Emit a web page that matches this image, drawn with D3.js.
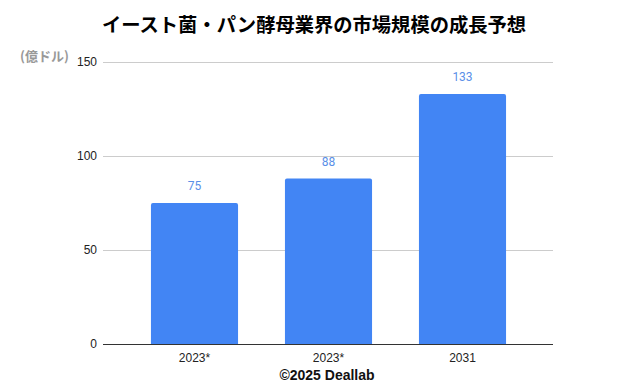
<!DOCTYPE html>
<html>
<head>
<meta charset="utf-8">
<script src="https://cdn.jsdelivr.net/npm/d3@7"></script>
<style>
  body { margin: 0; background: #fff; }
  svg { display: block; }
</style>
</head>
<body>
<svg id="chart" width="626" height="386"></svg>
<script>
// chart data
var categories = ['2023*', '2023*', '2031'];
var values = [75, 88, 133];
var yTicks = [0, 50, 100, 150];

var svg = d3.select('#chart');
var plotLeft = 103, plotRight = 553, plotTop = 62, plotBottom = 344;

// x uses index so duplicate labels stay separate
var x = d3.scaleBand()
  .domain(d3.range(categories.length))
  .range([127.5, 529.5])
  .paddingInner(0.35)
  .paddingOuter(0.175);
var y = d3.scaleLinear().domain([0, 150]).range([plotBottom, plotTop]);

// title
svg.append('text')
  .attr('x', 314).attr('y', 32)
  .attr('text-anchor', 'middle')
  .style('font-family', '"Noto Sans CJK JP", sans-serif')
  .style('font-weight', 'bold')
  .style('font-size', '19.3px')
  .text('イースト菌・パン酵母業界の市場規模の成長予想');

// unit label
svg.append('text')
  .attr('x', 20).attr('y', 61)
  .style('font-family', '"Noto Sans CJK JP", sans-serif')
  .style('font-weight', 'bold')
  .style('font-size', '13px')
  .style('fill', '#999')
  .text('(億ドル)');

// gridlines
svg.append('g').selectAll('line')
  .data(yTicks.filter(function(d) { return d > 0; }))
  .enter().append('line')
  .attr('x1', plotLeft).attr('x2', plotRight)
  .attr('y1', function(d) { return y(d) + 0.5; })
  .attr('y2', function(d) { return y(d) + 0.5; })
  .style('stroke', '#ccc');

// y tick labels
svg.append('g').selectAll('text')
  .data(yTicks)
  .enter().append('text')
  .attr('x', 97)
  .attr('y', function(d) { return y(d) + 4; })
  .attr('text-anchor', 'end')
  .style('font-family', 'Arial, "Liberation Sans", sans-serif')
  .style('font-size', '12px')
  .style('fill', '#222')
  .text(function(d) { return d; });

// bars with slightly rounded tops
svg.append('g').selectAll('path')
  .data(values)
  .enter().append('path')
  .attr('d', function(d, i) {
    var x0 = x(i), x1 = x(i) + x.bandwidth(), yt = y(d), r = 2;
    return 'M' + x0 + ' ' + plotBottom + 'V' + (yt + r) +
      'Q' + x0 + ' ' + yt + ' ' + (x0 + r) + ' ' + yt +
      'H' + (x1 - r) +
      'Q' + x1 + ' ' + yt + ' ' + x1 + ' ' + (yt + r) +
      'V' + plotBottom + 'Z';
  })
  .style('fill', '#4285f4');

// value labels
svg.append('g').selectAll('text')
  .data(values)
  .enter().append('text')
  .attr('x', function(d, i) { return x(i) + x.bandwidth() / 2; })
  .attr('y', function(d) { return y(d) - 13; })
  .attr('text-anchor', 'middle')
  .style('font-family', 'Roboto, sans-serif')
  .style('font-size', '12px')
  .style('fill', '#5a8fe8')
  .text(function(d) { return d; });

// baseline
svg.append('line')
  .attr('x1', plotLeft).attr('x2', plotRight)
  .attr('y1', plotBottom + 0.5).attr('y2', plotBottom + 0.5)
  .style('stroke', '#333');

// x labels
svg.append('g').selectAll('text')
  .data(categories)
  .enter().append('text')
  .attr('x', function(d, i) { return x(i) + x.bandwidth() / 2; })
  .attr('y', 362)
  .attr('text-anchor', 'middle')
  .style('font-family', 'Arial, "Liberation Sans", sans-serif')
  .style('font-size', '12px')
  .style('fill', '#222')
  .text(function(d) { return d; });

// credit
svg.append('text')
  .attr('x', 327).attr('y', 380)
  .attr('text-anchor', 'middle')
  .style('font-family', 'Arial, "Liberation Sans", sans-serif')
  .style('font-weight', 'bold')
  .style('font-size', '14px')
  .style('fill', '#111')
  .text('©2025 Deallab');
</script>
</body>
</html>
